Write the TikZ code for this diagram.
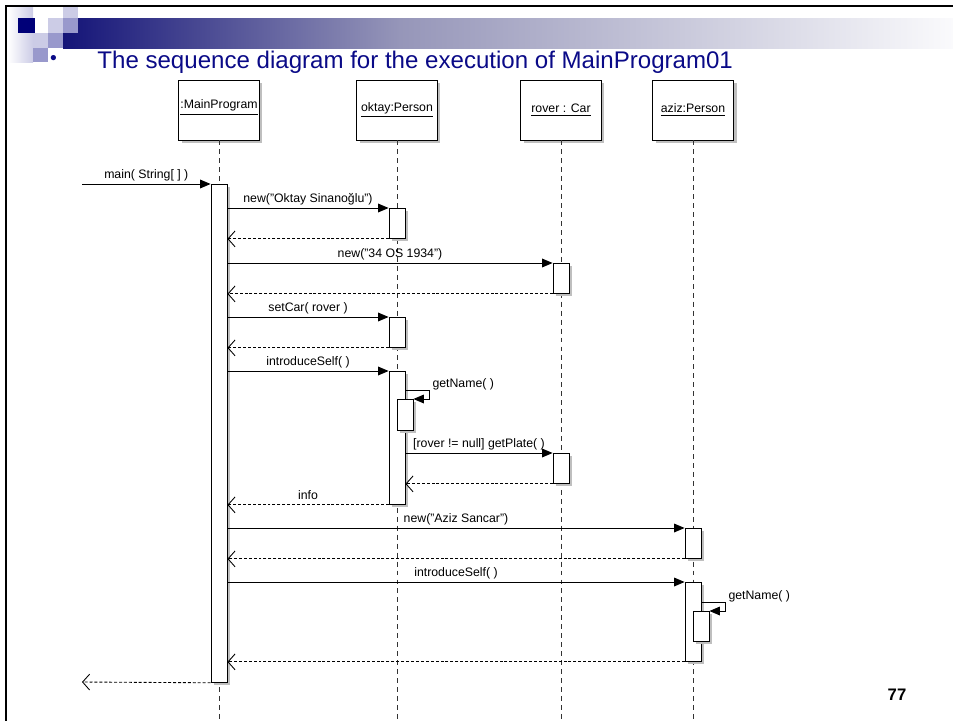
\documentclass[tikz,border=0pt]{standalone}
\usepackage{fontspec}
\setmainfont{Liberation Sans}
\usetikzlibrary{arrows.meta}
\usetikzlibrary{positioning}
\usetikzlibrary{shadows}
\definecolor{slideblue}{RGB}{10,10,135}
\definecolor{decnavy}{RGB}{0,0,120}
\definecolor{lavlight}{RGB}{204,204,230}
\definecolor{lavmid}{RGB}{153,153,204}
\definecolor{barleft}{RGB}{20,20,120}
\definecolor{barmid}{RGB}{150,150,185}
\definecolor{barright}{RGB}{250,250,252}

\begin{document}
\begin{tikzpicture}[
				x=0.02cm, y=-0.02cm,
				line width=0.5pt,
				font=\fontsize{7}{8}\selectfont,
				sdshadow/.style={drop shadow={shadow xshift=0.06cm, shadow yshift=-0.06cm, fill=black!25, opacity=1}},
				head/.style={draw, fill=white, minimum width=1.62cm, minimum height=1.2cm, inner sep=0, sdshadow},
				act/.style={draw, fill=white, minimum width=0.32cm, inner sep=0, anchor=north, sdshadow},
				lifeline/.style={black!80, dash pattern=on 2.8pt off 2.3pt},
				call/.style={-{Triangle[length=6pt, width=5pt]}},
				ret/.style={dash pattern=on 1.7pt off 1.1pt, -{Straight Barb[length=4pt, width=9pt]}},
				msg/.style={above, inner sep=1.5pt, text depth=1.5pt},
			]
				\useasboundingbox (0,0) rectangle (953,721);
				
				\shade[left color=white, right color=lavlight] (8,7) rectangle (33,62);
				\fill[lavlight] (63,7) rectangle (78,18);
				\shade[left color=barleft, right color=barmid] (63,18) rectangle (400,48);
				\shade[left color=barmid, right color=barright] (400,18) rectangle (953,48);
				\fill[decnavy] (18,18) rectangle (35,33);
				\fill[lavlight] (48,18) rectangle (63,33);
				\fill[lavmid] (63,18) rectangle (78,33);
				\fill[lavlight] (33,33) rectangle (48,48);
				\fill[lavmid] (48,33) rectangle (63,48);
				\fill[lavmid] (33,48) rectangle (48,62);
				\draw[line width=1.5pt] (953,6) -- (6,6) -- (6,721);
				
				\node[text=slideblue, inner sep=0, font=\fontsize{11}{12}\selectfont] (bullet) at (53.5,60) {•};
				\node[anchor=base west, inner sep=0, text=slideblue, font=\fontsize{13.7}{16}\selectfont] (title) at (97,68) {The sequence diagram for the execution of MainProgram01};
				\node[anchor=base, inner sep=0, font=\bfseries\fontsize{9.5}{11}\selectfont] (page) at (897,700) {77};
				
				\node[head, label={[anchor=center, yshift=-0.56cm]north:\underline{:MainProgram}}] (main) at (219,110) {};
				\node[head] (oktay) at (397,110) {\underline{oktay:Person}};
				\node[head] (rover) at (561,110) {\underline{rover : Car}};
				\node[head] (aziz) at (693,110) {\underline{aziz:Person}};
				
				\coordinate (bottom) at (0,721);
				\foreach \o in {main, oktay, rover, aziz}
					\draw[lifeline] (\o.south) -- (\o.south |- bottom);
				
				\node[act, minimum height=9.96cm] (mainact) at (219,184) {};
				\node[act, minimum height=0.6cm] (okt1) at (397,208) {};
				\node[act, minimum height=0.6cm] (rov1) at (561,263) {};
				\node[act, minimum height=0.6cm] (okt2) at (397,317) {};
				\node[act, minimum height=2.66cm] (okt3) at (397,371) {};
				\node[act, minimum height=0.62cm] (okt4) at (405,399) {};
				\node[act, minimum height=0.6cm] (rov2) at (561,453) {};
				\node[act, minimum height=0.6cm] (aziz1) at (693,528) {};
				\node[act, minimum height=1.58cm] (aziz2) at (693,582) {};
				\node[act, minimum height=0.6cm] (aziz3) at (701,611) {};
				
				\coordinate (entry) at (82,184);
				\coordinate (exit) at (82,682);
				
				\draw[call] (entry) -- (mainact.north west) node[msg, midway] {main( String[ ] )};
				\draw[call] (mainact.east |- okt1.north) -- (okt1.north west) node[msg, midway] {new("Oktay Sinanoğlu")};
				\draw[ret] (okt1.south west) -- (mainact.east |- okt1.south);
				\draw[call] (mainact.east |- rov1.north) -- (rov1.north west) node[msg, midway] {new("34 OS 1934")};
				\draw[ret] (rov1.south west) -- (mainact.east |- rov1.south);
				\draw[call] (mainact.east |- okt2.north) -- (okt2.north west) node[msg, midway] {setCar( rover )};
				\draw[ret] (okt2.south west) -- (mainact.east |- okt2.south);
				\draw[call] (mainact.east |- okt3.north) -- (okt3.north west) node[msg, midway] {introduceSelf( )};
				\draw[call] (okt3.east |- okt4.north) ++(0,-9) -- ++(24,0) node[anchor=base west, inner sep=1.5pt, yshift=1.6pt] {getName( )} |- (okt4.north east);
				\draw[call] (okt3.east |- rov2.north) -- (rov2.north west) node[msg, midway] {[rover != null] getPlate( )};
				\draw[ret] (rov2.south west) -- (okt3.east |- rov2.south);
				\draw[ret] (okt3.south west) -- (mainact.east |- okt3.south) node[msg, midway] {info};
				\draw[call] (mainact.east |- aziz1.north) -- (aziz1.north west) node[msg, midway] {new("Aziz Sancar")};
				\draw[ret] (aziz1.south west) -- (mainact.east |- aziz1.south);
				\draw[call] (mainact.east |- aziz2.north) -- (aziz2.north west) node[msg, midway] {introduceSelf( )};
				\draw[call] (aziz2.east |- aziz3.north) ++(0,-9) -- ++(24,0) node[anchor=base west, inner sep=1.5pt, yshift=1.6pt] {getName( )} |- (aziz3.north east);
				\draw[ret] (aziz2.south west) -- (mainact.east |- aziz2.south);
				\draw[ret] (mainact.south west) -- (exit);
			\end{tikzpicture}
\end{document}
